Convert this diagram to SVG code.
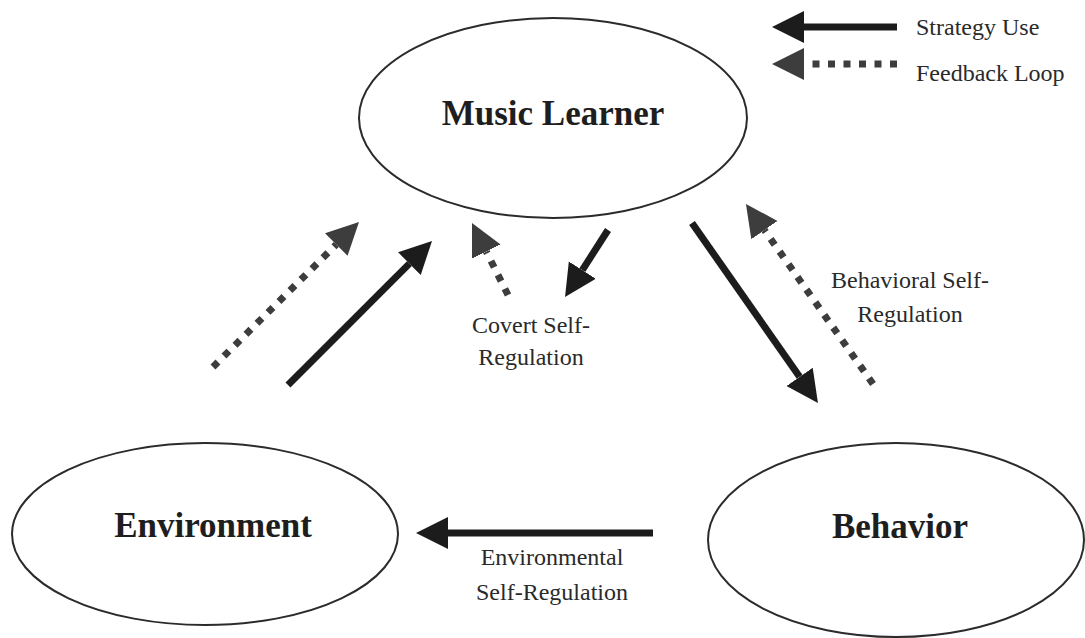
<svg xmlns="http://www.w3.org/2000/svg" width="1085" height="638" viewBox="0 0 1085 638">
<style>
.node{fill:#fff;stroke:#2b2b2b;stroke-width:2}
.title{font-family:"Liberation Serif",serif;font-weight:bold;font-size:35px;fill:#1e1e1e;text-anchor:middle}
.lbl{font-family:"Liberation Serif",serif;font-size:24px;fill:#2a2a2a;text-anchor:middle}
.leg{font-family:"Liberation Serif",serif;font-size:24px;fill:#2a2a2a}
.solid{fill:none;stroke:#1c1c1c;stroke-width:7;marker-end:url(#hs)}
.dot{fill:none;stroke:#3d3d3d;stroke-width:7;stroke-dasharray:7 8.5;marker-end:url(#hd)}
</style>
<defs>
<marker id="hs" markerUnits="userSpaceOnUse" viewBox="0 -17 34 34" markerWidth="34" markerHeight="34" refX="0" refY="0" orient="auto"><path d="M0,-16 L32,0 L0,16 z" fill="#1c1c1c"/></marker>
<marker id="hd" markerUnits="userSpaceOnUse" viewBox="0 -17 34 34" markerWidth="34" markerHeight="34" refX="0" refY="0" orient="auto"><path d="M0,-16 L32,0 L0,16 z" fill="#3d3d3d"/></marker>
</defs>
<rect width="1085" height="638" fill="#fff"/>
<g id="music-learner"><ellipse class="node" cx="553" cy="118" rx="194" ry="100"/><text class="title" x="553" y="125">Music Learner</text></g>
<g id="environment"><ellipse class="node" cx="205" cy="534" rx="193" ry="91"/><text class="title" x="213" y="537">Environment</text></g>
<g id="behavior"><ellipse class="node" cx="896" cy="540" rx="188" ry="97"/><text class="title" x="900" y="538">Behavior</text></g>
<g id="connectors">
<path class="dot" d="M213,367 L336.3,244.5"/>
<path class="solid" d="M288,385 L409.4,263.6"/>
<path class="dot" d="M508,295 L486.3,251.6"/>
<path class="solid" d="M608,230 L582.3,270.1"/>
<path class="solid" d="M692,223 L799.6,376.8"/>
<path class="dot" d="M873,384 L764.4,230.1"/>
<path class="solid" d="M653,533 L448,533"/>
</g>
<g id="labels">
<text class="lbl" x="531" y="333">Covert Self-</text>
<text class="lbl" x="531" y="365">Regulation</text>
<text class="lbl" x="910" y="288">Behavioral Self-</text>
<text class="lbl" x="910" y="322">Regulation</text>
<text class="lbl" x="552" y="565">Environmental</text>
<text class="lbl" x="552" y="600">Self-Regulation</text>
</g>
<g id="legend">
<path class="solid" d="M897,27 L804,27"/>
<path class="dot" d="M897,64 L804,64"/>
<text class="leg" x="916" y="35">Strategy Use</text>
<text class="leg" x="916" y="81">Feedback Loop</text>
</g>
</svg>
